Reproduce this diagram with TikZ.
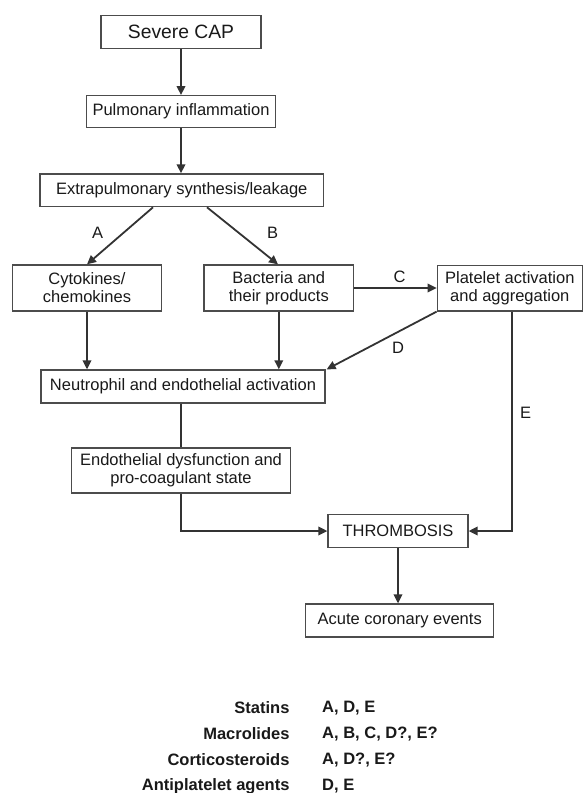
\documentclass[tikz,border=0pt]{standalone}
\usepackage{fontspec}
\setmainfont{Liberation Sans}
\usepackage{tikz}
\usetikzlibrary{
  calc,
  positioning,
  arrows.meta
}

\begin{document}
\begin{tikzpicture}[>={Triangle[length=9pt,width=8.5pt]}, x=1pt, y=-1pt]
  \tikzset{
    box/.style={
      draw=black!70, line width=1.3pt, fill=white, align=center,
      inner sep=0pt, text=black!90,
      font=\fontsize{16.5}{18}\selectfont
    },
    link/.style={->, draw=black!80, line width=1.8pt},
    plain/.style={draw=black!80, line width=1.8pt},
    tag/.style={text=black!90, font=\fontsize{16.5}{18}\selectfont},
    drug/.style={text=black!90, font=\bfseries\fontsize{16.5}{18}\selectfont},
    % every node/.style={font=\large}
  }
\useasboundingbox (0,0) rectangle (583,793);

\node[box, minimum width=160pt, minimum height=32.6pt,
  font=\fontsize{19.3}{22}\selectfont] (cap) at (181,32) {Severe CAP};
\node[box, minimum width=189pt, minimum height=32pt] (pulm) at (181,111.7) {Pulmonary inflammation};
\node[box, minimum width=283.7pt, minimum height=32.7pt] (extra) at (181.8,190.3) {Extrapulmonary synthesis/leakage};

\node[box, minimum width=149pt, minimum height=46pt] (cyto) at (87,288) {Cytokines/\\chemokines};
\node[box, minimum width=149.7pt, minimum height=46pt] (bact) at (278.8,288) {Bacteria and\\their products};
\node[box, minimum width=145pt, minimum height=45.3pt] (plat) at (509.8,288.3) {Platelet activation\\and aggregation};

\node[box, minimum width=284pt, minimum height=33pt] (neut) at (183,386.5) {Neutrophil and endothelial activation};
\node[box, minimum width=219pt, minimum height=45pt] (endo) at (181,470.5) {Endothelial dysfunction and\\pro-coagulant state};

\node[box, minimum width=140pt, minimum height=33pt] (thromb) at (398,531) {THROMBOSIS};
\node[box, minimum width=188pt, minimum height=33pt] (acute) at (399.7,620.5) {Acute coronary events};

\draw[link] (cap) -- (cap |- pulm.north);
\draw[link] (pulm) -- (pulm |- extra.north);

\draw[link] ([xshift=-28.8pt]extra.south) -- (cyto.north)
node[tag, pos=0.45, left=16pt, name=tagA] {A};
\draw[link] ([xshift=25.2pt]extra.south) -- ([xshift=-0.8pt]bact.north)
node[tag, pos=0.45, right=24pt, name=tagB] {B};
\draw[link] (bact.east) -- (plat.west |- bact.east)
node[tag, midway, above=1pt, xshift=4pt, name=tagC] {C};

\draw[link] (cyto.south) -- (cyto.south |- neut.north);
\draw[link] (bact.south) -- (bact.south |- neut.north);
\draw[link] (plat.south west) -- ([xshift=1pt]neut.north east)
node[tag, pos=0.35, below=6pt, name=tagD] {D};

\draw[plain] (endo.north |- neut.south) -- (endo.north);
\draw[link] (endo.south) |- (thromb.west);
\draw[link] ([xshift=2pt]plat.south) |- (thromb.east)
node[tag, pos=0.23, right=4pt, name=tagE] {E};
\draw[link] (thromb.south) -- (thromb.south |- acute.north);

\node[drug, anchor=east] (stat) at (293,708) {Statins};
\node[drug, anchor=east] (macro) at (293,734) {Macrolides};
\node[drug, anchor=east] (cort) at (293,760) {Corticosteroids};
\node[drug, anchor=east] (anti) at (293,786) {Antiplatelet agents};

\node[drug, anchor=west] (statv) at (318.7,708) {A, D, E};
\node[drug, anchor=west] (macrov) at (318.7,734) {A, B, C, D?, E?};
\node[drug, anchor=west] (cortv) at (318.7,760) {A, D?, E?};
\node[drug, anchor=west] (antiv) at (318.7,786) {D, E};

\end{tikzpicture}
\end{document}
